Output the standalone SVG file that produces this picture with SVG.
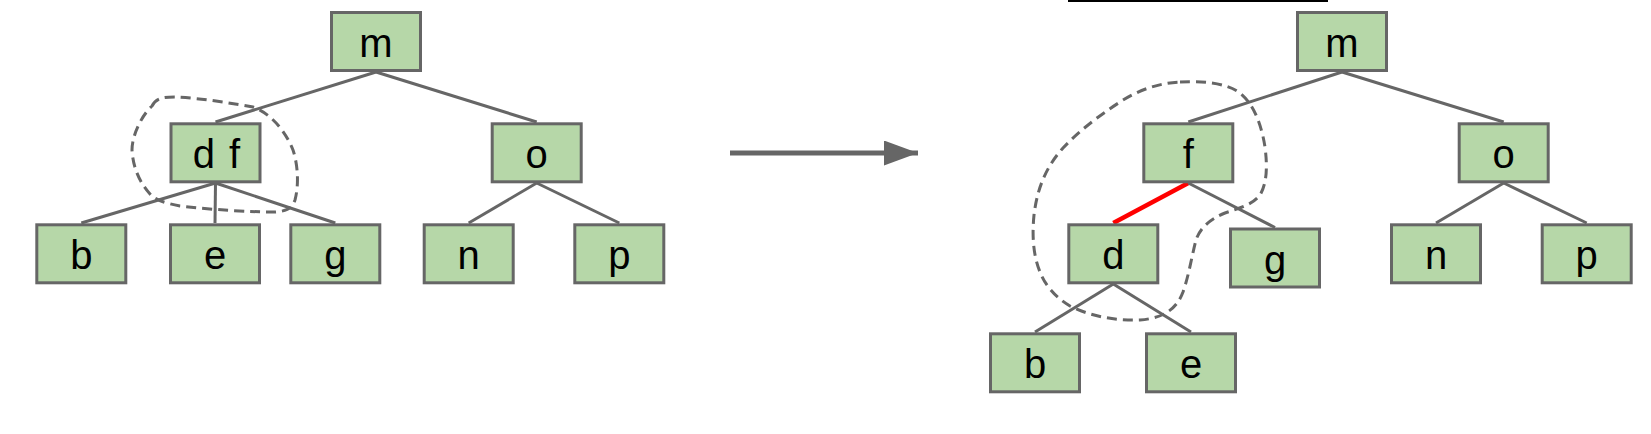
<svg xmlns="http://www.w3.org/2000/svg" width="1651" height="434" viewBox="0 0 1651 434">
<style>
.node rect{fill:#b6d7a8;stroke:#666666;stroke-width:3}
.node text{font-family:"Liberation Sans",Arial,sans-serif;font-size:40px;fill:#000;text-anchor:middle}
.edge{stroke:#666666;stroke-width:3;fill:none}
.hl{stroke:#ff0000;stroke-width:4.5;fill:none}
.blob{stroke:#666666;stroke-width:3;fill:none;stroke-dasharray:10 6}
</style>
<defs>
<marker id="ah" markerWidth="34" markerHeight="25" refX="34" refY="12.5" orient="auto" markerUnits="userSpaceOnUse">
<path d="M0,0 L34,12.5 L0,25 Z" fill="#666666"/>
</marker>
</defs>
<line x1="1068" y1="1" x2="1328" y2="1" stroke="#000" stroke-width="2"/>
<g id="connectors">
<line class="edge" x1="376" y1="72" x2="215.5" y2="122"/>
<line class="edge" x1="376" y1="72" x2="536.7" y2="122"/>
<line class="edge" x1="215.5" y1="183" x2="81.3" y2="223"/>
<line class="edge" x1="215.5" y1="183" x2="215" y2="223"/>
<line class="edge" x1="215.5" y1="183" x2="335.3" y2="223"/>
<line class="edge" x1="536.7" y1="183" x2="468.7" y2="223"/>
<line class="edge" x1="536.7" y1="183" x2="619.3" y2="223"/>
<line class="edge" x1="1342" y1="72" x2="1188.3" y2="122"/>
<line class="edge" x1="1342" y1="72" x2="1503.7" y2="122"/>
<line class="hl" x1="1188.3" y1="183" x2="1113.3" y2="223"/>
<line class="edge" x1="1188.3" y1="183" x2="1275" y2="227.5"/>
<line class="edge" x1="1113.3" y1="284" x2="1035" y2="332"/>
<line class="edge" x1="1113.3" y1="284" x2="1191" y2="332"/>
<line class="edge" x1="1503.7" y1="183" x2="1436" y2="223"/>
<line class="edge" x1="1503.7" y1="183" x2="1586.7" y2="223"/>
<line x1="730" y1="153" x2="918" y2="153" stroke="#666666" stroke-width="5" marker-end="url(#ah)"/>
</g>
<g id="groups">
<path class="blob" d="M152,106 C156,98 163,97 175,97 C200,98 230,103 253,107 C270,113 285,130 293,150 C298,165 299,185 295,200 C292,208 288,211 275,212 C250,212 215,210 180,206 C165,203 155,200 150,194 C140,183 133,168 132,150 C132,135 142,115 152,106 Z"/>
<path class="blob" d="M1180,82 C1200,81 1225,82 1240,93 C1255,105 1262,128 1265,147 C1268,170 1266,185 1260,195 C1252,205 1240,208 1225,213 C1210,219 1200,228 1196,240 C1192,255 1189,275 1183,292 C1177,308 1165,318 1140,320 C1115,321 1090,316 1070,306 C1055,297 1045,285 1040,272 C1033,255 1032,235 1034,215 C1037,190 1045,168 1063,148 C1080,130 1100,115 1120,102 C1140,89 1160,83 1180,82 Z"/>
</g>
<g id="L_m" class="node"><rect x="331.5" y="12.5" width="89" height="58"/><text x="376" y="57">m</text></g>
<g id="L_df" class="node"><rect x="171" y="123.8" width="89" height="58"/><text x="216.5" y="168.3" word-spacing="3">d f</text></g>
<g id="L_o" class="node"><rect x="492.2" y="123.8" width="89" height="58"/><text x="536.7" y="168.3">o</text></g>
<g id="L_b" class="node"><rect x="36.8" y="224.8" width="89" height="58"/><text x="81.3" y="269.3">b</text></g>
<g id="L_e" class="node"><rect x="170.5" y="224.8" width="89" height="58"/><text x="215" y="269.3">e</text></g>
<g id="L_g" class="node"><rect x="290.8" y="224.8" width="89" height="58"/><text x="335.3" y="269.3">g</text></g>
<g id="L_n" class="node"><rect x="424.2" y="224.8" width="89" height="58"/><text x="468.7" y="269.3">n</text></g>
<g id="L_p" class="node"><rect x="574.8" y="224.8" width="89" height="58"/><text x="619.3" y="269.3">p</text></g>
<g id="R_m" class="node"><rect x="1297.5" y="12.5" width="89" height="58"/><text x="1342" y="57">m</text></g>
<g id="R_f" class="node"><rect x="1143.8" y="123.8" width="89" height="58"/><text x="1188.3" y="168.3">f</text></g>
<g id="R_o" class="node"><rect x="1459.2" y="123.8" width="89" height="58"/><text x="1503.7" y="168.3">o</text></g>
<g id="R_d" class="node"><rect x="1068.8" y="224.8" width="89" height="58"/><text x="1113.3" y="269.3">d</text></g>
<g id="R_g" class="node"><rect x="1230.5" y="229" width="89" height="58"/><text x="1275" y="273.5">g</text></g>
<g id="R_n" class="node"><rect x="1391.5" y="224.8" width="89" height="58"/><text x="1436" y="269.3">n</text></g>
<g id="R_p" class="node"><rect x="1542.2" y="224.8" width="89" height="58"/><text x="1586.7" y="269.3">p</text></g>
<g id="R_b" class="node"><rect x="990.5" y="333.8" width="89" height="58"/><text x="1035" y="378.3">b</text></g>
<g id="R_e" class="node"><rect x="1146.5" y="333.8" width="89" height="58"/><text x="1191" y="378.3">e</text></g>
</svg>
